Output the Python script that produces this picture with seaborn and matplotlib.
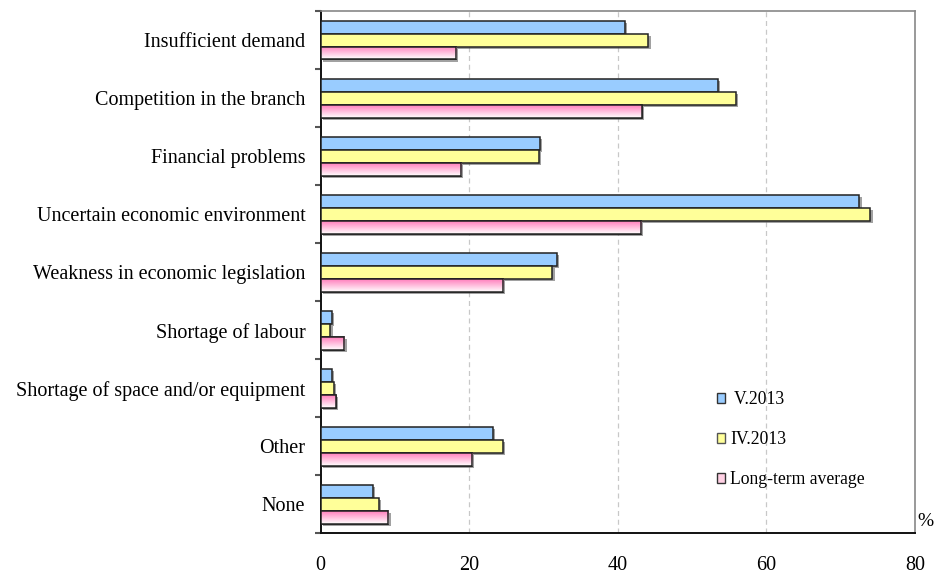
import numpy as np
import pandas as pd
import matplotlib
matplotlib.use("Agg")
import matplotlib.pyplot as plt
import matplotlib.patheffects as pe
from matplotlib.patches import Rectangle
from matplotlib.ticker import FixedLocator
import seaborn as sns

# Survey: factors limiting business activity (% of respondents)
categories = [
    "Insufficient demand",
    "Competition in the branch",
    "Financial problems",
    "Uncertain economic environment",
    "Weakness in economic legislation",
    "Shortage of labour",
    "Shortage of space and/or equipment",
    "Other",
    "None",
]
series_names = [" V.2013", "IV.2013", "Long-term average"]
v_2013 = [41.0, 53.5, 29.5, 72.5, 31.8, 1.5, 1.5, 23.2, 7.0]
iv_2013 = [44.1, 55.9, 29.4, 74.0, 31.2, 1.3, 1.8, 24.5, 7.8]
long_term = [18.2, 43.2, 18.9, 43.1, 24.5, 3.2, 2.0, 20.4, 9.1]
x_ticks = [0, 20, 40, 60, 80]

colors = ["#99CCFF", "#FFFF99", "#FF8FC0"]

df = pd.DataFrame({
    "category": categories * 3,
    "series": sum([[s] * len(categories) for s in series_names], []),
    "value": v_2013 + iv_2013 + long_term,
})

sns.set_theme(style="white")
plt.rcParams["font.family"] = ["Liberation Serif", "DejaVu Serif"]
plt.rcParams["text.color"] = "black"
plt.rcParams["xtick.color"] = "black"
plt.rcParams["ytick.color"] = "black"

fig = plt.figure(figsize=(9.44, 5.74), dpi=100)
ax = fig.add_axes([0.3397, 0.0709, 0.6296, 0.9099])

sns.barplot(data=df, y="category", x="value", hue="series", orient="h",
            order=categories, hue_order=series_names,
            palette=colors, saturation=1, width=0.67, gap=0, legend=False,
            edgecolor="#222222", linewidth=1.1, ax=ax, zorder=3)

shadow = [pe.SimplePatchShadow(offset=(1.6, -1.6), shadow_rgbFace="#555555", alpha=0.55),
          pe.Normal()]

# gradient for the long-term average bars: pink on top fading to white
pink = np.array([1.0, 0.50, 0.74])
t = np.linspace(0, 1, 64)[:, None]
grad = (1 - t) * pink + t * np.array([1.0, 1.0, 1.0])
grad = grad[:, None, :]

bars = [p for p in ax.patches if isinstance(p, Rectangle)]
n = len(categories)
for i, p in enumerate(bars):
    p.set_path_effects(shadow)
    p.set_zorder(3)
    if i >= 2 * n:
        x0, y0 = p.get_x(), p.get_y()
        w, h = p.get_width(), p.get_height()
        p.set_facecolor("white")
        im = ax.imshow(grad, extent=(x0, x0 + w, y0 + h, y0), origin="upper",
                       aspect="auto", zorder=3.1, interpolation="bilinear")
        im.set_clip_path(p)
        edge = Rectangle((x0, y0), w, h, facecolor="none",
                         edgecolor="#222222", linewidth=1.1, zorder=3.2)
        ax.add_patch(edge)

ax.set_xlim(0, 80)
ax.set_ylim(len(categories) - 0.5, -0.5)

# grid
for gx in x_ticks[1:-1]:
    ax.axvline(gx, color="#C8C8C8", linestyle=(0, (4, 3)), linewidth=0.9, zorder=1)

ax.set_xticks(x_ticks)
ax.set_xticklabels([str(v) for v in x_ticks], fontsize=14.5)
ax.tick_params(axis="x", length=0, pad=16)

ax.yaxis.set_minor_locator(FixedLocator(np.arange(-0.5, len(categories), 1.0)))
ax.tick_params(axis="y", which="major", length=0, pad=11, labelsize=14.5)
ax.tick_params(axis="y", which="minor", length=4.5, width=1.5, color="#555555",
               direction="out", left=True)
ax.set_ylabel("")
ax.set_xlabel("")

for side in ["left", "bottom"]:
    ax.spines[side].set_color("#111111")
    ax.spines[side].set_linewidth(1.4)
for side in ["top", "right"]:
    ax.spines[side].set_color("#888888")
    ax.spines[side].set_linewidth(1.2)

handles = [Rectangle((0, 0), 1, 1, facecolor=colors[0], edgecolor="#333333", linewidth=1.0),
           Rectangle((0, 0), 1, 1, facecolor=colors[1], edgecolor="#555555", linewidth=1.0),
           Rectangle((0, 0), 1, 1, facecolor="#FFD0E4", edgecolor="#333333", linewidth=1.0)]
ax.legend(handles, series_names, loc="lower left", bbox_to_anchor=(0.655, 0.073),
          frameon=False, fontsize=12.7, handlelength=0.45, handleheight=0.45,
          handletextpad=0.3, labelspacing=1.3, borderaxespad=0)

fig.text(0.98, 0.092, "%", fontsize=14, ha="center", va="center")

fig.savefig("out.png", dpi=100)
